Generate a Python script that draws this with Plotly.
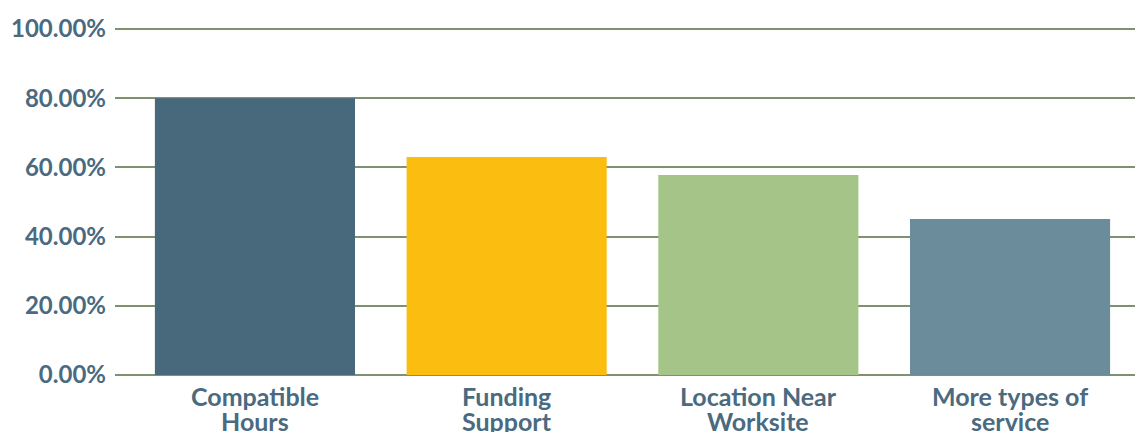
import plotly.graph_objects as go

categories = [["Compatible", "Hours"], ["Funding", "Support"], ["Location Near", "Worksite"], ["More types of", "service"]]
values = [0.80, 0.63, 0.578, 0.451]
colors = ["#48687c", "#fbbd10", "#a4c587", "#6a8c9b"]
y_ticks = [0, 0.2, 0.4, 0.6, 0.8, 1.0]

text_color = "#4a6a80"
grid_color = "#7d9370"
TICK_FONT = dict(family="Lato", size=24, color=text_color, weight=700)
CAT_FONT = dict(family="Lato", size=25, color=text_color, weight=700)

xs = list(range(len(categories)))
fig = go.Figure(go.Bar(
    x=xs,
    y=values,
    marker=dict(color=colors, line=dict(width=0)),
    width=0.795,
))

for i, lines in enumerate(categories):
    for j, line in enumerate(lines):
        fig.add_annotation(
            x=xs[i], xref="x", y=0, yref="paper",
            text=line, showarrow=False, font=CAT_FONT,
            xanchor="center", yanchor="top", yshift=-4 - 25 * j,
        )

fig.update_layout(
    width=1143, height=432,
    margin=dict(l=107, r=0, t=20, b=65, autoexpand=False),
    paper_bgcolor="white", plot_bgcolor="white",
    showlegend=False,
    font=TICK_FONT,
)
fig.update_xaxes(
    range=[-0.556, 3.56], showgrid=False, zeroline=False, showline=False,
    showticklabels=False, ticks="", automargin=False,
)
fig.update_yaxes(
    range=[0, 1.003], tickvals=y_ticks, tickformat=".2%",
    showgrid=True, gridcolor=grid_color, gridwidth=1.5,
    zeroline=True, zerolinecolor=grid_color, zerolinewidth=1.5,
    showline=False, ticks="", ticklabelstandoff=8, automargin=False,
    tickfont=TICK_FONT,
)

fig.write_html("out.html")
